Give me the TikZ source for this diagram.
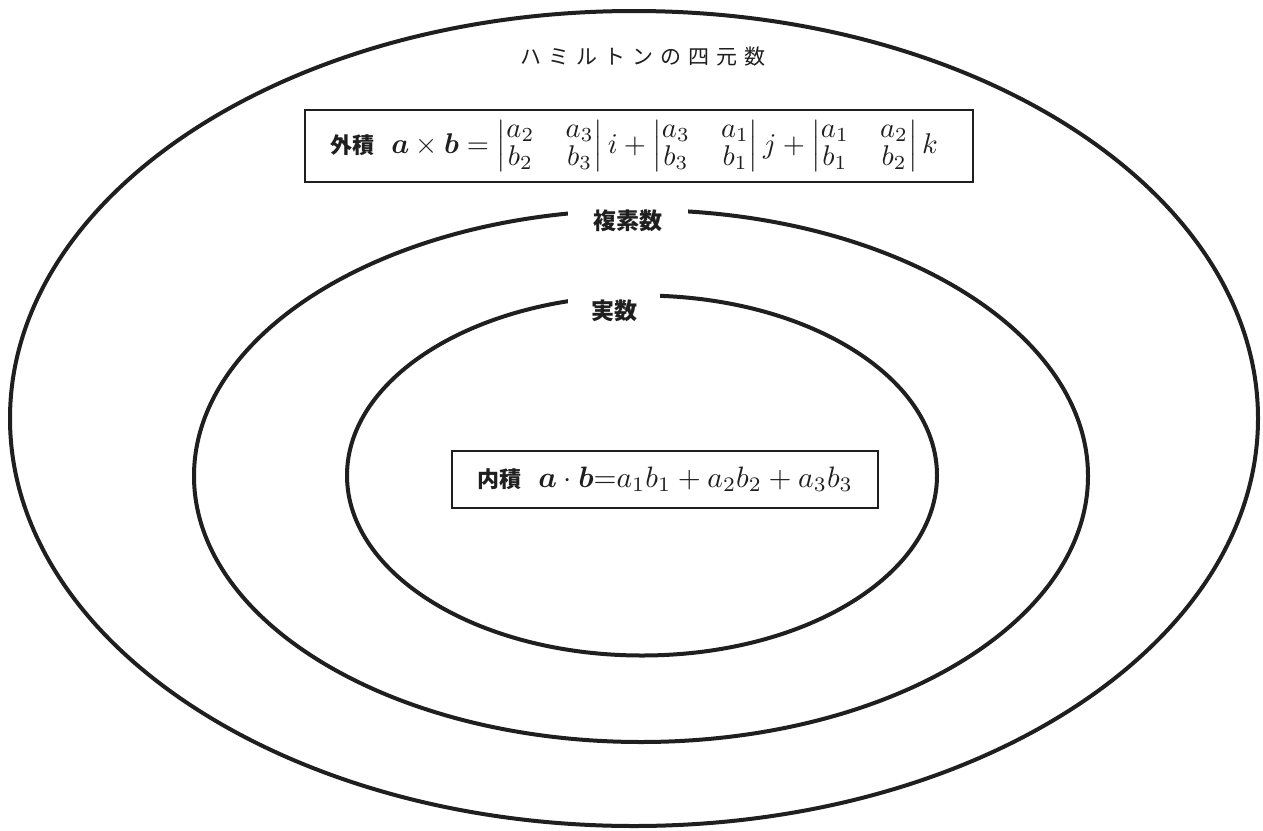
\documentclass[tikz,border=0pt]{standalone}
\usepackage{graphicx}
\usepackage{amsmath,bm}
\usepackage{fontspec}
\newfontfamily\cjk{Noto Sans CJK JP}
\newcommand{\bigmath}[2][2.85]{\scalebox{#1}{\fontsize{10}{9.3}\selectfont\arraycolsep=5.5pt #2}}
\begin{document}
\begin{tikzpicture}[x=1pt,y=-1pt,
  ring/.style={line width=4pt, draw=black!88},
  gaplabel/.style={fill=white, inner sep=0pt, font=\cjk\bfseries\fontsize{23}{26}\selectfont, text=black!88},
  formbox/.style={draw=black!88, line width=1.8pt, fill=white, inner sep=0pt, font=\cjk\bfseries\fontsize{22}{26}\selectfont, text=black!88}]
\useasboundingbox (0,0) rectangle (1263,830);
\coordinate (c1) at (634,418.5);
\coordinate (c2) at (641,476);
\coordinate (c3) at (642,475.5);
\draw[ring] (c1) ellipse [x radius=624, y radius=407.5];
\draw[ring] (c2) ellipse [x radius=447, y radius=266];
\draw[ring] (c3) ellipse [x radius=295, y radius=180];
\node[gaplabel, minimum width=120, minimum height=44] (fukuso) at (628,221) {複素数};
\node[gaplabel, minimum width=92, minimum height=44] (jissu) at (614,311) {実数};
\node[font=\cjk\fontsize{21}{24}\selectfont, text=black!88] (hamilton) at (643,57) {ハ\,\,ミ\,\,ル\,\,ト\,\,ン\,\,の\,\,四\,\,元\,\,数};
\node[formbox, minimum width=668, minimum height=72] (gaiseki) at (639,146)
  {\hspace*{-10pt}外積\;\; \bigmath{$\bm{a}\times\bm{b}=\begin{vmatrix} a_2 & a_3\\ b_2 & b_3\end{vmatrix} i+\begin{vmatrix} a_3 & a_1\\ b_3 & b_1\end{vmatrix} j+\begin{vmatrix} a_1 & a_2\\ b_1 & b_2\end{vmatrix} k$}};
\node[formbox, minimum width=426, minimum height=57] (naiseki) at (665,479.5)
  {内積\;\; \bigmath[2.95]{$\bm{a}\cdot\bm{b}{=}a_1b_1+a_2b_2+a_3b_3$}};
\end{tikzpicture}
\end{document}
